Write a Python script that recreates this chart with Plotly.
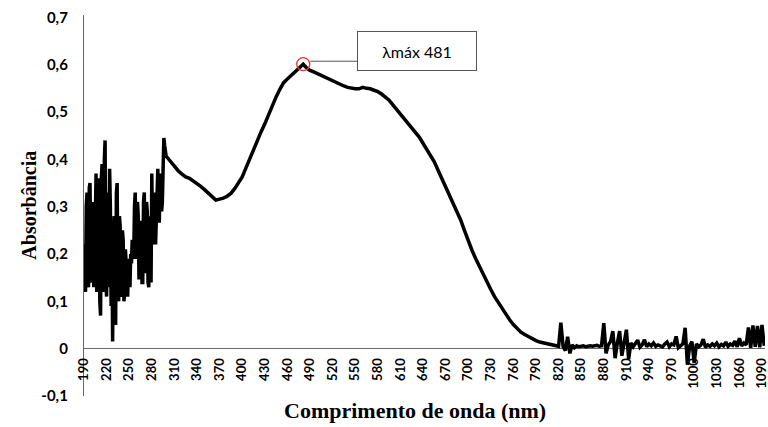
import plotly.graph_objects as go

# ---------------- data ----------------
uv_wl = list(range(190, 300))  # 190 ... 299
uv_abs = [0.22, 0.13, 0.12, 0.30, 0.33, 0.14, 0.13, 0.34, 0.35, 0.15,
          0.14, 0.31, 0.25, 0.13, 0.16, 0.33, 0.37, 0.12, 0.14, 0.36,
          0.30, 0.10, 0.07, 0.36, 0.39, 0.15, 0.12, 0.40, 0.44, 0.14,
          0.11, 0.30, 0.33, 0.13, 0.38, 0.30, 0.09, 0.25, 0.015, 0.22,
          0.28, 0.08, 0.05, 0.33, 0.35, 0.12, 0.10, 0.28, 0.26, 0.12,
          0.11, 0.25, 0.23, 0.10, 0.12, 0.21, 0.18, 0.12, 0.11, 0.19,
          0.17, 0.13, 0.20, 0.18, 0.23, 0.20, 0.19, 0.30, 0.33, 0.20,
          0.19, 0.31, 0.28, 0.15, 0.15, 0.27, 0.26, 0.14, 0.14, 0.31,
          0.33, 0.17, 0.16, 0.31, 0.29, 0.14, 0.13, 0.28, 0.25, 0.14,
          0.37, 0.23, 0.22, 0.33, 0.30, 0.22, 0.27, 0.36, 0.38, 0.27,
          0.27, 0.36, 0.37, 0.29, 0.31, 0.38, 0.445, 0.43, 0.41, 0.407]

vis_wl = [300, 305, 310, 315, 320, 325, 330, 335, 340, 345,
          350, 355, 360, 365, 370, 375, 380, 385, 390, 395,
          400, 405, 410, 415, 420, 425, 430, 435, 440, 445,
          450, 455, 460, 465, 470, 475, 478, 481, 485, 490,
          495, 500, 505, 510, 515, 520, 525, 530, 535, 540,
          545, 550, 555, 560, 565, 570, 575, 580, 585, 590,
          595, 600, 605, 610, 615, 620, 625, 630, 635, 640,
          645, 650, 655, 660, 665, 670, 675, 680, 685, 690,
          695, 700, 705, 710, 715, 720, 725, 730, 735, 740,
          745, 750, 755, 760, 765, 770, 775, 780, 785, 790,
          795, 800, 805, 810, 815, 820]
vis_abs = [0.405, 0.395, 0.385, 0.376, 0.369, 0.363, 0.360, 0.355, 0.348, 0.343,
           0.336, 0.328, 0.320, 0.314, 0.316, 0.318, 0.322, 0.328, 0.338, 0.350,
           0.363, 0.382, 0.402, 0.420, 0.440, 0.458, 0.475, 0.495, 0.515, 0.532,
           0.548, 0.562, 0.570, 0.578, 0.585, 0.592, 0.597, 0.601, 0.594, 0.588,
           0.585, 0.581, 0.578, 0.574, 0.570, 0.566, 0.563, 0.558, 0.555, 0.552,
           0.550, 0.549, 0.549, 0.552, 0.550, 0.549, 0.546, 0.543, 0.538, 0.532,
           0.525, 0.515, 0.505, 0.496, 0.487, 0.477, 0.467, 0.458, 0.447, 0.434,
           0.421, 0.410, 0.395, 0.377, 0.360, 0.342, 0.325, 0.308, 0.292, 0.272,
           0.250, 0.228, 0.208, 0.190, 0.173, 0.158, 0.142, 0.125, 0.110, 0.098,
           0.085, 0.071, 0.061, 0.051, 0.042, 0.035, 0.030, 0.025, 0.020, 0.017,
           0.014, 0.012, 0.010, 0.008, 0.006, 0.005]

nir_wl = list(range(823, 1096, 3))  # 823 ... 1093
nir_abs = [0.055, 0.004, -0.004, 0.025, -0.010, 0.008, 0.002, 0.006, 0.004, 0.005,
           0.006, 0.004, 0.005, 0.006, 0.005, 0.006, 0.007, 0.005, 0.006, 0.054,
           -0.010, 0.008, 0.015, 0.037, -0.020, 0.012, 0.037, -0.015, 0.010, 0.040,
           -0.022, 0.012, 0.004, 0.010, 0.018, 0.003, 0.008, 0.019, 0.004, 0.010,
           0.006, 0.012, 0.005, 0.008, 0.006, 0.004, 0.010, 0.014, 0.004, 0.010,
           0.008, 0.026, 0.002, 0.007, 0.010, 0.044, -0.034, 0.006, 0.015, -0.030,
           0.010, 0.004, 0.008, 0.020, 0.003, 0.008, 0.005, 0.010, 0.006, 0.012,
           0.004, 0.009, 0.006, 0.014, 0.005, 0.010, 0.007, 0.016, 0.004, 0.022,
           0.006, 0.012, 0.008, 0.045, 0.002, 0.049, 0.004, 0.048, 0.003, 0.050,
           0.006]

x_ticks = list(range(190, 1091, 30))
y_ticks = [-0.1, 0, 0.1, 0.2, 0.3, 0.4, 0.5, 0.6, 0.7]
y_ticktext = ["-0,1", "0", "0,1", "0,2", "0,3", "0,4", "0,5", "0,6", "0,7"]

peak_label = "λmáx 481"
x_title = "Comprimento de onda (nm)"
y_title = "Absorbância"

# ---------------- figure ----------------
wl = uv_wl + vis_wl + nir_wl
ab = uv_abs + vis_abs + nir_abs
ipk = max(range(len(ab)), key=lambda i: ab[i])
pk_x, pk_y = wl[ipk], ab[ipk]

Y0, Y1 = -0.1, 0.705
X0, X1 = 190, 1094
axis_col = "#666666"

fig = go.Figure()
fig.add_trace(go.Scatter(x=wl, y=ab, mode="lines",
                         line=dict(color="black", width=3.5),
                         showlegend=False, hoverinfo="skip"))
fig.add_trace(go.Scatter(x=[pk_x], y=[pk_y], mode="markers",
                         marker=dict(symbol="circle-open", size=13,
                                     line=dict(color="#e8332a", width=1.3),
                                     color="#e8332a"),
                         showlegend=False, hoverinfo="skip"))

# connector line from the peak marker to the label box
fig.add_shape(type="line", xref="x", yref="y",
              xsizemode="pixel", ysizemode="pixel",
              xanchor=pk_x, yanchor=pk_y,
              x0=7, x1=54, y0=3, y1=3,
              line=dict(color="#555555", width=1))
fig.add_annotation(x=pk_x, y=pk_y, xref="x", yref="y",
                   text=peak_label, showarrow=False,
                   xshift=114, yshift=13,
                   width=118, height=38, borderpad=0,
                   bordercolor="#555555", borderwidth=1, bgcolor="white",
                   font=dict(family="Lato", size=16, color="black"))

# axis titles
fig.add_annotation(text=x_title, xref="paper", yref="paper",
                   x=0.486, y=-0.037, showarrow=False,
                   xanchor="center", yanchor="middle",
                   font=dict(family="Liberation Serif", size=22,
                             color="black", weight="bold"))
fig.add_annotation(text=y_title, xref="paper", yref="paper",
                   x=-0.082, y=0.50, showarrow=False, textangle=-90,
                   xanchor="center", yanchor="middle",
                   font=dict(family="Liberation Serif", size=20,
                             color="black", weight="bold"))

fig.update_layout(
    width=768, height=427,
    margin=dict(l=84, r=3, t=15, b=31, autoexpand=False),
    paper_bgcolor="white", plot_bgcolor="white",
    xaxis=dict(range=[X0, X1], tickvals=x_ticks, tickangle=-90,
               anchor="free", position=(0 - Y0) / (Y1 - Y0),
               showline=False, showgrid=False, zeroline=False,
               automargin=False, ticklabeloverflow="allow",
               ticks="", ticklabelstandoff=6,
               tickfont=dict(family="Lato", size=13, color="black",
                             weight="bold")),
    yaxis=dict(range=[Y0, Y1], tickvals=y_ticks, ticktext=y_ticktext,
               showline=True, linecolor=axis_col, linewidth=1.3,
               automargin=False,
               showgrid=False, zeroline=True, zerolinecolor=axis_col,
               zerolinewidth=1.3, ticks="", ticklabelstandoff=12,
               tickfont=dict(family="Lato", size=15, color="black",
                             weight="bold")),
)

fig.write_html("out.html",
               config={"displayModeBar": False},
               post_script="document.body.style.margin='0';"
                           "document.body.style.overflow='hidden';")
